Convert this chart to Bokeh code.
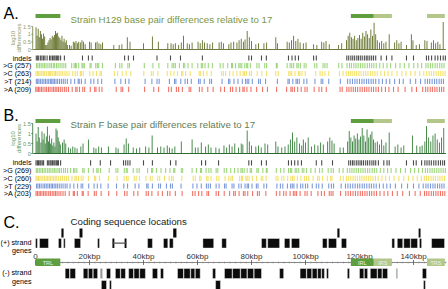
from math import pi

from bokeh.core.properties import value
from bokeh.embed import file_html
from bokeh.models import Range1d
from bokeh.plotting import figure
from bokeh.resources import INLINE

# ---------------------------------------------------------------- data (kbp)
GENOME_KBP = 152.0

# repeat regions: name, start, end, shade
region_names = ["TRL", "IRL", "IRS", "TRS"]
region_start = [0.0, 116.8, 125.3, 145.0]
region_end = [9.2, 125.3, 132.0, 151.6]
region_dark = [True, True, False, False]

# log10 number of differences per window, strain H129 vs 17
h129_pos = [0.2, 0.6, 1.0, 1.4, 1.8, 2.2, 2.6, 3.0, 3.4, 3.8, 4.2, 4.6, 5.0, 5.4, 5.8, 6.2, 6.6, 7.0,
            7.4, 7.8, 8.2, 8.6, 9.0, 9.4, 9.8, 10.2, 10.6, 11.0, 11.4, 11.8, 12.6, 13.2,
            14.0, 14.5, 15.0, 15.5, 16.0, 16.6, 17.2, 17.8, 18.4, 20.0, 20.6, 22.2, 22.8, 23.5,
            24.2, 24.8, 29.0, 31.0, 32.0, 34.0, 35.0, 40.0, 43.3, 45.5, 49.0,
            50.2, 51.0, 51.8, 53.0, 54.0, 54.8, 56.2, 57.0, 58.0, 60.2, 61.0, 61.8, 62.6, 63.6,
            64.6, 65.6, 68.0, 68.8, 69.6, 71.6, 72.4, 73.4, 74.6, 75.4, 76.2, 77.0, 77.6, 78.4,
            79.2, 80.0, 81.6, 82.6, 84.6, 85.6, 89.0, 89.6, 93.2, 94.0, 94.8, 95.6, 96.4, 97.2,
            98.0, 99.2, 100.2, 103.0, 104.2, 106.0, 106.8, 107.6, 108.8, 112.2, 113.4,
            115.2, 115.8, 116.4, 117.0, 117.6, 118.2, 118.8, 119.4, 120.0, 120.6, 121.2, 121.8,
            122.4, 123.0, 123.6, 124.2, 124.8, 125.4, 126.0, 126.6, 127.4, 128.2, 129.0, 129.8,
            131.0, 133.0, 133.8, 134.6, 135.4, 137.4, 139.2, 139.8, 141.0, 142.2, 144.2, 145.0,
            146.6, 147.4, 148.2, 149.0, 149.8, 151.0]
h129_val = [1.45, 0.9, 1.35, 0.8, 1.2, 1.0, 0.7, 1.05, 0.85, 0.3, 0.3, 0.45, 0.6, 0.75, 0.65, 0.9, 0.8, 0.95,
            1.2, 1.05, 1.1, 0.85, 0.75, 0.6, 0.9, 0.5, 0.7, 0.45, 0.6, 0.3, 0.3, 0.25,
            0.5, 0.45, 0.55, 0.4, 0.5, 0.45, 0.6, 0.5, 0.35, 0.5, 0.45, 0.45, 0.5, 0.4,
            0.35, 0.45, 0.3, 0.3, 0.35, 0.8, 0.5, 0.4, 0.85, 0.5, 0.4,
            0.4, 0.35, 0.4, 0.3, 0.45, 0.9, 0.4, 0.35, 0.45, 0.5, 0.4, 0.6, 0.45, 0.4,
            0.35, 0.45, 0.45, 0.5, 0.4, 0.35, 0.45, 0.5, 0.45, 0.6, 0.7, 0.5, 0.65, 1.2,
            0.8, 0.55, 0.35, 0.4, 0.4, 0.45, 0.8, 0.4, 0.5, 0.45, 0.6, 0.9, 0.55, 0.7,
            0.45, 0.4, 0.45, 0.35, 0.3, 0.5, 0.45, 0.55, 0.35, 0.3, 0.4,
            0.6, 0.9, 1.1, 0.8, 0.7, 0.9, 0.6, 0.75, 0.95, 0.7, 1.1, 0.85,
            1.2, 1.0, 0.75, 1.3, 0.9, 1.75, 1.0, 0.6, 0.45, 0.55, 0.4, 0.5,
            1.0, 0.45, 0.6, 0.4, 0.5, 0.3, 1.0, 0.6, 0.3, 0.35, 0.6, 0.55,
            0.45, 0.6, 0.4, 0.5, 0.35, 1.8]

# log10 number of differences per window, strain F vs 17
f_pos = [0.2, 0.6, 1.0, 1.4, 2.0, 2.4, 2.8, 3.2, 3.6, 4.0, 4.4, 4.8, 5.2, 5.6, 6.0, 6.4, 6.8, 7.2,
         7.6, 8.0, 8.4, 8.8, 9.2, 10.0, 10.6, 11.2, 12.2, 13.0, 13.8, 14.6, 15.4, 16.8, 17.6,
         19.6, 21.6, 22.4, 23.4, 24.4, 27.0, 29.8, 30.6, 32.8, 33.6, 34.4, 36.2, 37.4, 38.6,
         40.8, 42.0, 43.2, 45.2, 46.4, 47.6, 48.8, 49.6, 50.6, 51.6, 54.0, 58.0, 59.2, 60.2,
         61.4, 63.0, 64.0, 65.0, 66.8, 68.0, 69.8, 70.8, 71.8, 72.8, 73.8, 75.2, 76.2, 76.8,
         78.4, 79.2, 80.0, 81.6, 82.6, 83.6, 85.0, 86.0, 89.0, 89.8, 91.2, 92.4, 93.6, 94.4,
         95.2, 96.0, 96.8, 97.8, 98.6, 99.2, 100.0, 101.0, 102.2, 103.4, 104.6, 105.6, 106.6,
         108.2, 109.0, 109.8, 110.6, 112.8, 114.0, 115.6, 116.2, 116.8, 117.4, 118.0, 118.6,
         119.2, 119.8, 120.4, 121.0, 121.6, 122.2, 122.8, 123.4, 124.0, 124.6, 125.2, 125.8,
         126.6, 127.4, 128.2, 129.0, 129.8, 131.0, 133.2, 134.2, 135.4, 136.4, 139.6, 141.2,
         142.4, 143.2, 144.2, 144.8, 145.6, 146.4, 147.2, 148.0, 148.8, 149.6, 150.4, 151.2]
f_val = [1.0, 0.6, 1.33, 0.8, 0.55, 1.1, 0.7, 1.0, 0.5, 0.85, 1.35, 0.6, 0.9, 0.5, 0.75, 0.4, 0.55, 0.35,
         1.25, 1.15, 0.8, 0.6, 0.45, 0.55, 0.7, 0.5, 0.3, 0.25, 0.35, 0.3, 0.25, 0.35, 0.5,
         0.7, 0.3, 0.25, 0.35, 0.3, 0.35, 0.3, 0.25, 0.45, 0.75, 0.5, 0.3, 0.25, 0.3,
         0.35, 0.3, 0.9, 0.3, 0.35, 0.3, 0.4, 0.3, 0.25, 0.35, 0.6, 0.7, 0.3, 0.3,
         0.55, 0.35, 0.45, 0.3, 0.3, 0.25, 0.4, 0.3, 0.45, 0.35, 0.5, 0.3, 0.5, 0.45,
         1.15, 0.6, 0.4, 0.35, 0.4, 0.3, 0.5, 0.45, 0.6, 0.35, 0.3, 0.35, 0.45, 0.7,
         1.05, 0.6, 0.8, 0.5, 0.4, 0.7, 0.55, 0.8, 0.35, 0.45, 0.4, 0.55, 0.45,
         0.6, 0.8, 0.65, 0.5, 0.3, 0.3, 0.6, 1.13, 0.8, 0.6, 0.9, 0.75,
         1.0, 0.7, 0.85, 1.27, 0.9, 0.6, 1.2, 0.8, 0.95, 1.1, 0.7, 0.55,
         0.6, 0.45, 0.7, 0.4, 0.55, 1.05, 0.35, 0.45, 0.3, 0.4, 0.9, 0.4,
         0.35, 0.4, 0.6, 1.38, 0.8, 0.6, 0.9, 1.0, 0.7, 0.55, 0.8, 1.27]

# variant positions (kbp) for strain H129
h129_indels = [0.3, 0.8, 1.2, 1.9, 2.4, 3.0, 3.5, 4.3, 5.2, 5.7, 6.3, 6.8, 7.2, 7.7, 8.1, 8.6, 9.3, 10.7,
               17.4, 19.6, 21.0, 33.0, 34.4, 36.3, 45.0, 50.0, 53.7, 61.8, 79.0, 80.0, 83.7, 85.5,
               93.7, 95.0, 96.2, 97.4, 103.0, 104.0, 115.3, 116.0, 116.8, 117.5, 118.2, 119.0,
               119.6, 120.3, 121.0, 121.8, 122.5, 123.1, 123.8, 124.5, 125.2, 126.0, 128.0, 130.0,
               132.0, 137.4, 140.0, 144.8, 145.6, 146.7, 148.0, 149.0, 150.0, 151.0, 151.8]
h129_to_g = [0.4, 0.9, 1.5, 2.1, 2.7, 3.3, 3.9, 4.6, 5.3, 5.9, 6.6, 7.1, 7.8, 8.4, 9.1, 9.8, 10.5, 11.2,
             13.4, 14.3, 14.8, 15.1, 16.0, 17.2, 17.6, 18.1, 20.2, 20.6, 22.3, 22.9, 23.4, 24.8,
             29.6, 31.2, 32.0, 34.2, 34.8, 40.3, 43.5, 45.7, 49.0, 50.6, 51.2, 51.8, 53.3, 54.8,
             55.3, 56.5, 58.0, 60.1, 61.4, 61.9, 62.8, 64.0, 65.5, 68.4, 69.5, 71.2, 72.6, 73.0,
             74.1, 75.3, 75.8, 76.4, 77.5, 78.2, 78.6, 79.6, 82.0, 82.8, 84.9, 85.6, 89.2, 89.5,
             93.2, 94.3, 94.9, 95.6, 96.8, 97.3, 98.1, 99.5, 100.2, 103.4, 104.2, 106.5, 107.2,
             108.0, 112.3, 113.5, 115.4, 116.3, 117.0, 117.9, 118.7,
             119.5, 120.4, 121.2, 122.0, 122.9, 123.7, 124.5, 125.3, 126.2, 127.5, 128.8, 130.2,
             131.5, 133.4, 135.0, 136.6, 138.3, 140.1, 141.6, 143.0, 144.6, 145.4, 146.3, 147.1,
             148.0, 148.8, 149.7, 150.5, 151.3]
h129_to_c = [0.2, 0.7, 1.2, 1.7, 2.3, 2.9, 3.4, 4.0, 4.7, 5.1, 5.6, 6.2, 6.9, 7.4, 8.0, 8.7, 9.4, 10.1,
             10.9, 11.6, 12.4, 13.8, 14.7, 15.5, 16.6, 17.0, 17.7, 20.1, 21.3, 22.6, 23.9, 24.4,
             29.2, 30.4, 32.1, 33.6, 35.3, 40.1, 42.9, 43.6, 45.3, 48.8, 50.1, 51.3, 52.6, 54.1,
             54.6, 55.6, 57.3, 60.6, 61.2, 62.2, 63.5, 65.1, 68.9, 69.6, 70.4, 71.9, 73.2, 74.6,
             75.8, 76.9, 77.4, 78.1, 79.3, 80.0, 82.1, 83.8, 85.6, 89.0, 89.9, 93.8, 94.3, 94.9,
             96.1, 97.4, 97.9, 98.7, 99.9, 103.8, 105.4, 106.2, 107.2, 108.6, 112.6, 113.9,
             115.1, 115.9, 116.6, 117.3,
             118.1, 118.9, 119.8, 120.6, 121.5, 122.3, 123.1, 124.0, 124.9, 125.7, 126.6, 127.9,
             129.3, 130.6, 132.0, 133.9, 135.7, 137.2, 139.0, 140.6, 142.3, 143.8, 144.9, 145.8,
             146.6, 147.5, 148.4, 149.2, 150.1, 150.9, 151.7]
h129_to_t = [0.3, 0.8, 1.3, 1.9, 2.5, 3.1, 3.7, 4.3, 4.9, 5.5, 6.0, 6.5, 7.0, 7.6, 8.2, 8.9, 9.6, 10.3,
             11.0, 11.8, 13.1, 14.5, 15.8, 16.2, 17.0, 18.4, 20.5, 21.6, 23.1, 24.5, 29.4, 31.6,
             33.3, 34.6, 40.6, 43.1, 45.0, 45.8, 49.6, 51.5, 52.0, 53.8, 55.4, 56.3, 57.7, 60.4,
             61.0, 62.5, 64.5, 65.2, 69.1, 71.5, 72.0, 73.5, 75.0, 76.6, 77.8, 78.4, 79.0, 80.3,
             82.6, 83.3, 85.2, 89.6, 93.5, 94.0, 95.3, 96.5, 97.0, 97.7, 99.4, 100.5, 103.5,
             105.8, 106.4, 108.6, 112.9, 115.6, 116.5, 117.4, 118.3,
             119.1, 120.0, 120.9, 121.7, 122.6, 123.4, 124.3, 125.1, 126.0, 127.2, 128.5, 129.9,
             131.2, 133.0, 134.8, 136.2, 138.8, 140.8, 142.6, 144.3, 145.2, 146.0, 146.9, 147.8,
             148.6, 149.5, 150.3, 151.1]
h129_to_a = [0.1, 0.6, 1.1, 1.6, 2.2, 2.8, 3.5, 4.1, 4.8, 5.4, 6.1, 6.7, 7.3, 7.9, 8.5, 9.2, 9.9, 10.7,
             11.4, 12.2, 13.6, 14.9, 15.4, 16.3, 17.5, 18.2, 20.3, 21.9, 22.4, 23.6, 24.6, 29.9,
             31.7, 32.3, 34.5, 40.4, 43.8, 45.6, 49.3, 50.3, 52.2, 53.0, 54.4, 56.9, 57.5, 60.7,
             61.7, 63.8, 65.8, 68.6, 70.0, 72.2, 73.0, 74.3, 75.6, 76.8, 77.3, 78.3, 79.8, 81.9,
             84.1, 85.9, 89.3, 93.0, 94.6, 95.1, 95.9, 97.1, 98.4, 99.8, 100.6, 103.2, 105.0,
             106.0, 107.7, 112.8, 113.6, 115.3, 116.1, 116.9, 117.7, 118.5,
             119.3, 120.2, 121.0, 121.9, 122.7, 123.5, 124.4, 125.2, 126.1, 127.0, 128.2, 129.6,
             130.9, 132.6, 134.3, 136.9, 139.4, 141.1, 143.4, 144.5, 145.3, 146.2, 147.0, 147.9,
             148.7, 149.6, 150.4, 151.2]

# variant positions (kbp) for strain F
f_indels = [0.2, 0.7, 1.1, 1.6, 2.0, 2.5, 3.0, 4.4, 4.9, 5.4, 5.8, 6.3, 6.8, 7.2, 7.7, 8.1, 8.5, 9.3,
            20.4, 24.0, 27.8, 32.6, 33.4, 34.2, 35.0, 40.0, 43.3, 50.0, 52.0, 61.5, 63.0, 67.8, 79.0,
            80.0, 83.7, 85.5, 93.7, 94.8, 96.0, 97.2, 98.5, 104.0, 106.0, 110.0, 116.0, 116.7, 117.4,
            118.0, 118.8, 119.5, 120.2, 120.8, 121.5, 122.3, 123.0, 123.8, 124.6, 125.3, 126.0,
            127.0, 129.0, 130.2, 131.0, 137.4, 140.0, 141.0, 143.0, 144.2, 145.0, 145.8, 146.6,
            147.5, 148.3, 149.2, 150.0, 150.8, 151.5]
f_to_g = [0.3, 0.8, 1.4, 2.0, 2.6, 3.2, 3.8, 4.5, 5.1, 5.7, 6.4, 7.0, 7.6, 8.3, 8.9, 9.6, 10.4, 11.1,
          11.9, 13.0, 14.1, 14.6, 15.3, 17.5, 18.0, 19.6, 21.4, 22.7, 23.2, 24.1, 27.3, 29.8,
          30.5, 32.9, 33.6, 34.0, 36.2, 37.6, 38.4, 41.5, 43.0, 43.4, 44.8, 46.5, 48.2, 49.8,
          51.2, 51.6, 54.0, 54.5, 58.0, 59.6, 61.1, 61.5, 63.2, 64.2, 65.0, 66.9, 67.5, 69.9,
          70.8, 72.3, 73.7, 75.0, 76.1, 76.6, 77.3, 78.4, 79.5, 80.0, 82.0, 82.5, 84.2, 85.5,
          85.8, 89.2, 90.8, 92.0, 93.7, 94.4, 94.9, 96.2, 96.8, 97.5, 98.8, 99.4, 100.4, 102.0,
          103.6, 105.2, 106.2, 108.4, 109.5, 110.3, 112.5, 113.9, 115.5, 116.4, 117.2,
          118.0, 118.8, 119.6, 120.5, 121.3, 122.1, 123.0, 123.8, 124.7, 125.5, 126.4, 127.7,
          129.0, 130.4, 131.7, 133.5, 135.2, 137.0, 138.9, 140.4, 141.9, 143.3, 144.4, 145.2,
          146.1, 146.9, 147.7, 148.6, 149.4, 150.2, 151.0, 151.8]
f_to_c = [0.2, 0.6, 1.1, 1.6, 2.1, 2.7, 3.3, 3.9, 4.4, 5.0, 5.5, 6.1, 6.7, 7.3, 7.9, 8.6, 9.3, 10.0,
          10.8, 11.5, 12.3, 13.5, 14.6, 15.1, 15.9, 16.9, 17.6, 19.6, 21.9, 22.3, 23.7, 27.0,
          30.2, 32.8, 33.7, 34.3, 36.6, 37.3, 38.5, 40.9, 42.5, 43.2, 45.3, 46.0, 47.8, 49.5,
          50.4, 51.0, 54.2, 58.4, 59.2, 60.8, 61.3, 63.4, 63.9, 65.0, 67.1, 67.9, 70.2, 71.6,
          72.4, 73.0, 75.6, 76.3, 76.7, 77.9, 78.4, 79.1, 80.3, 81.9, 83.6, 84.2, 85.4, 89.1,
          89.8, 91.2, 92.0, 93.4, 94.6, 95.2, 95.8, 97.0, 98.3, 99.6, 100.4, 101.2, 102.8,
          104.5, 105.1, 106.3, 108.1, 109.3, 109.8, 112.9, 114.0, 115.2, 116.0, 116.8,
          117.6, 118.4, 119.2, 120.1, 120.9, 121.7, 122.5, 123.4, 124.2, 125.0, 125.9, 126.9,
          128.3, 129.7, 131.1, 132.8, 134.6, 136.4, 138.1, 139.8, 141.4, 142.9, 144.0, 144.8,
          145.6, 146.5, 147.3, 148.1, 149.0, 149.8, 150.6, 151.5]
f_to_t = [0.4, 0.9, 1.5, 2.1, 2.8, 3.4, 4.0, 4.6, 5.2, 5.8, 6.3, 6.9, 7.5, 8.1, 8.8, 9.5, 10.2, 11.0,
          11.7, 12.8, 14.2, 15.6, 16.9, 17.5, 19.7, 21.7, 22.9, 24.2, 26.9, 30.0, 32.7, 34.1,
          36.9, 38.3, 41.2, 41.7, 43.3, 45.6, 46.3, 48.5, 50.0, 50.7, 53.9, 58.3, 59.8, 61.4,
          63.3, 64.0, 64.8, 66.9, 68.0, 70.0, 70.6, 72.8, 73.5, 75.3, 76.2, 77.6, 78.4, 78.9,
          80.2, 81.8, 82.4, 84.6, 85.6, 89.4, 90.7, 91.6, 93.3, 94.5, 95.1, 95.7, 96.9, 98.2,
          99.0, 100.0, 100.8, 102.5, 104.0, 104.9, 106.2, 108.6, 109.6, 110.4, 113.2, 114.8,
          115.7, 116.6, 117.5, 118.4,
          119.3, 120.1, 121.0, 121.8, 122.7, 123.6, 124.4, 125.3, 126.2, 127.4, 128.8, 130.1,
          131.4, 133.3, 135.6, 137.8, 140.0, 142.0, 143.6, 144.6, 145.4, 146.3, 147.2, 148.0,
          148.9, 149.7, 150.5, 151.3]
f_to_a = [0.2, 0.7, 1.3, 1.8, 2.4, 3.0, 3.6, 4.2, 4.9, 5.5, 6.2, 6.8, 7.4, 8.0, 8.7, 9.4, 10.2, 11.0,
          12.5, 14.0, 14.4, 15.5, 17.3, 17.7, 19.5, 21.8, 22.5, 24.3, 27.1, 30.1, 33.0, 33.9,
          36.4, 37.9, 41.0, 41.8, 43.1, 45.4, 47.0, 48.9, 49.8, 51.8, 54.3, 58.2, 59.1, 60.4,
          61.6, 63.5, 64.1, 66.9, 67.8, 69.9, 71.9, 73.4, 74.0, 75.4, 77.0, 77.6, 78.6, 80.4,
          82.2, 82.9, 85.3, 89.2, 90.5, 91.9, 92.8, 94.3, 95.5, 96.1, 96.7, 98.0, 99.8, 100.6,
          102.1, 104.6, 105.9, 107.0, 108.8, 109.5, 110.2, 113.0, 114.9, 115.8, 116.7, 117.6,
          118.5, 119.4, 120.3, 121.1, 122.0,
          122.8, 123.7, 124.5, 125.4, 126.3, 127.6, 129.1, 130.5, 132.2, 134.0, 136.0, 138.5,
          140.6, 142.5, 144.1, 144.9, 145.7, 146.6, 147.4, 148.3, 149.1, 150.0, 150.8, 151.6]

row_labels_h129 = ["indels", ">G (257)", ">C (263)", ">T (214)", ">A (209)"]
row_labels_f = ["indels", ">G (269)", ">C (260)", ">T (229)", ">A (203)"]

# coding sequences (kbp): plus strand, main and stacked tracks
plus_start = [0.0, 1.5, 8.5, 10.4, 14.4, 23.0, 41.5, 47.4, 49.6, 62.0, 69.0, 83.7, 86.0, 92.2,
              94.8, 106.3, 108.5, 113.3, 132.0, 134.0, 136.4, 139.0, 142.2, 146.7]
plus_end = [0.7, 4.8, 9.6, 11.0, 16.7, 23.7, 43.3, 49.0, 51.0, 66.0, 70.7, 85.5, 90.4, 94.2,
            97.8, 108.0, 111.5, 115.2, 133.0, 136.0, 138.8, 141.5, 143.0, 151.5]
plus_upper_start = [9.6, 16.3, 51.0, 111.8, 141.9]
plus_upper_end = [10.4, 17.4, 52.2, 112.6, 142.6]
spliced_start = [28.5]
spliced_end = [33.7]
# minus strand, main and stacked tracks
minus_start = [11.0, 12.8, 17.7, 19.6, 21.4, 26.3, 29.6, 31.6, 34.5, 36.5, 38.6, 43.3, 46.3, 52.6,
               55.0, 57.5, 59.2, 65.6, 70.0, 73.0, 76.0, 78.5, 81.0, 90.4, 98.0, 100.5, 102.5,
               104.5, 106.0, 107.8, 115.5, 120.0, 121.8, 124.0, 126.7, 128.5, 133.7, 143.3]
minus_end = [12.6, 14.8, 19.4, 21.2, 23.0, 27.8, 31.4, 33.3, 36.3, 38.4, 40.7, 45.2, 47.4, 54.8,
             57.3, 59.0, 61.0, 66.7, 72.8, 75.8, 78.3, 80.8, 83.7, 91.9, 100.3, 102.3, 104.3,
             105.8, 107.0, 108.5, 116.3, 121.6, 123.0, 126.5, 128.3, 130.4, 134.0, 144.8]
minus_grey_start = [24.0]
minus_grey_end = [24.8]
minus_lower_start = [24.4, 27.4, 66.7, 143.7]
minus_lower_end = [26.3, 28.1, 68.5, 144.4]

kbp_ticks = [0, 20, 40, 60, 80, 100, 120, 140]
kbp_tick_labels = ["0", "20kbp", "40kbp", "60kbp", "80kbp", "100kbp", "120kbp", "140kbp"]
log_ticks = [0, 0.5, 1, 1.5]
log_tick_labels = ["0", "0.5", "1", "1.5"]

# ---------------------------------------------------------------- canvas
W, H = 448, 289
X0, KPX = 35.0, 2.7          # pixel of 0 kbp, pixels per kbp
FONT = value("Liberation Sans")

p = figure(width=W, height=H, output_backend="svg", toolbar_location=None,
           x_range=Range1d(-X0 / KPX, (W - X0) / KPX), y_range=Range1d(H, 0),
           x_axis_location=None, y_axis_location=None, min_border=0)
p.outline_line_color = None
p.grid.visible = False
p.background_fill_color = "white"
p.border_fill_color = "white"
p.extra_x_ranges = {"px": Range1d(0, W)}


def value_range(y_zero, y_top, top_val):
    """A y range whose 0 and top_val land on the given pixel rows."""
    ppu = (y_zero - y_top) / top_val
    end = y_zero / ppu
    return Range1d(end - H / ppu, end)


def text(x, y, s, size, color="black", align="left", baseline="alphabetic",
         angle=0.0, px=True, **kw):
    extra = {"x_range_name": "px"} if px else {}
    p.text(x=[x], y=[y], text=[s], text_font=FONT, text_font_size=size,
           text_color=color, text_align=align, text_baseline=baseline,
           angle=angle, **extra, **kw)


DARK_REGION, LIGHT_REGION = "#5e9e3e", "#b3c78a"


def region_bars(y_top, y_bot):
    for s, e, dark in zip(region_start, region_end, region_dark):
        p.quad(left=[s], right=[e], top=[y_top], bottom=[y_bot],
               fill_color=DARK_REGION if dark else LIGHT_REGION, line_color=None)


def diff_panel(letter, letter_y, title, title_color, title_y, band_y, name,
               zero_y, top_y, pos, vals, bar_color, axis_color, label_color,
               row_y, rows, labels):
    text(3, letter_y, letter, "16px")
    text(70, title_y, title, "9.7px", color=title_color)
    region_bars(band_y - 2, band_y + 2)

    p.extra_y_ranges[name] = value_range(zero_y, top_y, 1.5)
    p.vbar(x=pos, top=vals, bottom=0, width=0.34, y_range_name=name,
           fill_color=bar_color, line_color=None, fill_alpha=0.95)
    p.line(x=[-0.8, GENOME_KBP], y=[0, 0], y_range_name=name,
           line_color=axis_color, line_width=1)
    # value axis
    p.segment(x0=[32.2], x1=[32.2], y0=[0], y1=[1.5], x_range_name="px",
              y_range_name=name, line_color=axis_color, line_width=0.8)
    p.segment(x0=[30.8] * len(log_ticks), x1=[32.2] * len(log_ticks),
              y0=log_ticks, y1=log_ticks, x_range_name="px", y_range_name=name,
              line_color=axis_color, line_width=0.8)
    p.text(x=[30.3] * len(log_ticks), y=log_ticks, text=log_tick_labels,
           x_range_name="px", y_range_name=name, text_font=FONT,
           text_font_size="5.6px", text_color=label_color,
           text_align="right", text_baseline="middle")
    mid = (zero_y + top_y) / 2
    text(12.0, mid, "log10", "6px", color=label_color, align="center",
         baseline="middle", angle=pi / 2)
    text(18.2, mid, "differences", "6px", color=label_color, align="center",
         baseline="middle", angle=pi / 2)

    # variant tracks
    colors = ["#1e1e1e", "#7cc852", "#f0d944", "#4f77cc", "#ec4434"]
    alphas = [0.8, 0.75, 0.8, 0.75, 0.75]
    for y, xs, c, a, lab in zip(row_y, rows, colors, alphas, labels):
        p.segment(x0=xs, x1=xs, y0=[y - 2.6] * len(xs), y1=[y + 2.6] * len(xs),
                  line_color=c, line_alpha=a, line_width=1.1)
        text(31, y, lab, "7.2px", align="right", baseline="middle")


diff_panel("A.", 13, "Strain H129 base pair differences relative to 17", "#7c9645", 18.5, 15.5,
           "h129", 49, 26, h129_pos, h129_val, "#5d6b20", "#6f7a3f", "#8d9a66",
           [57.5, 65.2, 73.0, 80.8, 88.8],
           [h129_indels, h129_to_g, h129_to_c, h129_to_t, h129_to_a], row_labels_h129)
diff_panel("B.", 115, "Strain F base pair differences relative to 17", "#5f7d59", 123.5, 120.5,
           "f", 153, 123, f_pos, f_val, "#2f7a35", "#2d6a30", "#5e9a5e",
           [162.3, 170.0, 177.8, 185.5, 193.0],
           [f_indels, f_to_g, f_to_c, f_to_t, f_to_a], row_labels_f)

# ---------------------------------------------------------------- panel C
text(3, 222, "C.", "16px")
text(70, 221, "Coding sequence locations", "9.7px", color="#222222")
text(31, 242, "(+) strand", "7.2px", align="right")
text(31, 250, "genes", "7.2px", align="right")
text(31, 272, "(-) strand", "7.2px", align="right")
text(31, 280.5, "genes", "7.2px", align="right")

GENE = "#0c0c0c"
p.quad(left=plus_start, right=plus_end, top=238, bottom=247.5,
       fill_color=GENE, line_color="white", line_width=0.4)
p.quad(left=plus_upper_start, right=plus_upper_end, top=228, bottom=237,
       fill_color=GENE, line_color=None)
p.quad(left=spliced_start, right=[s + 0.7 for s in spliced_start], top=238, bottom=247.5,
       fill_color=GENE, line_color=None)
p.quad(left=[e - 0.7 for e in spliced_end], right=spliced_end, top=238, bottom=247.5,
       fill_color=GENE, line_color=None)
p.segment(x0=spliced_start, x1=spliced_end, y0=242.7, y1=242.7,
          line_color="#555555", line_width=1.2)
p.quad(left=minus_start, right=minus_end, top=268, bottom=278,
       fill_color=GENE, line_color="white", line_width=0.4)
p.quad(left=minus_grey_start, right=minus_grey_end, top=268, bottom=278,
       fill_color="#9a9a9a", line_color=None)
p.quad(left=minus_lower_start, right=minus_lower_end, top=280, bottom=289,
       fill_color=GENE, line_color="white", line_width=0.4)

# genome coordinate axis
minor = [k for k in range(0, int(GENOME_KBP) + 1, 2)]
p.line(x=[0, GENOME_KBP], y=[262, 262], line_color="#6a6a6a", line_width=0.8)
p.segment(x0=minor, x1=minor, y0=[261] * len(minor), y1=[263] * len(minor),
          line_color="#8a8a8a", line_width=0.6)
p.segment(x0=kbp_ticks, x1=kbp_ticks, y0=[259.5] * len(kbp_ticks), y1=[264.5] * len(kbp_ticks),
          line_color="#555555", line_width=0.8)
p.text(x=kbp_ticks, y=[256] * len(kbp_ticks), text=kbp_tick_labels, text_font=FONT,
       text_font_size="8px", text_color="#333333", text_align="center",
       text_baseline="alphabetic")
region_bars(258, 265.5)
p.text(x=[(s + e) / 2 for s, e in zip(region_start, region_end)], y=[262] * 4,
       text=region_names, text_font=FONT, text_font_size="5.5px",
       text_color="#eef3e4", text_align="center", text_baseline="middle")

open("out.html", "w").write(file_html(p, INLINE))
